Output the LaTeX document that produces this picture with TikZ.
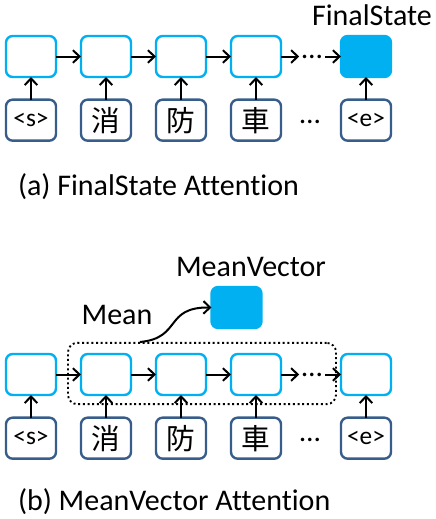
\documentclass[tikz,border=0pt]{standalone}
\usepackage{fontspec}
\setmainfont{Carlito}[Ligatures=NoCommon]
\newfontfamily\jpfont{Noto Sans CJK JP}
\usetikzlibrary{arrows.meta, positioning}
\definecolor{cellblue}{RGB}{0,176,240}
\definecolor{wordblue}{RGB}{56,93,138}

\begin{document}
\begin{tikzpicture}[x=0.75pt, y=-0.75pt, >={Straight Barb[length=5pt,width=9.5pt]}, line width=1.5pt,
  node distance=17pt and 18.75pt,
  cell/.style={draw=cellblue, rounded corners=5pt, minimum width=37.5pt, minimum height=30.75pt, inner sep=0pt, outer sep=0pt, line width=1.8pt},
  final/.style={cell, fill=cellblue},
  word/.style={draw=wordblue, rounded corners=5pt, minimum width=37.5pt, minimum height=30.75pt, inner sep=0pt, outer sep=0pt, line width=1.8pt, font=\fontsize{19}{22}\selectfont},
  kanji/.style={word, font=\jpfont\fontsize{21.5}{24}\selectfont},
  dots/.style={inner sep=0pt, outer sep=2pt, font=\fontsize{22}{24}\selectfont},
  label/.style={inner sep=0pt, font=\fontsize{22.5}{26}\selectfont}]

  \useasboundingbox (0,0) rectangle (436,519);

  % (a) final state
  \node[cell] (ha1) at (31,56.5) {};
  \node[cell] (ha2) [right=of ha1] {};
  \node[cell] (ha3) [right=of ha2] {};
  \node[cell] (ha4) [right=of ha3] {};
  \node[final] (ha5) [right=45pt of ha4] {};
  \node[dots] (da) at (312,56.5) {…};

  \node[word] (xa1) [below=of ha1] {<s>};
  \node[kanji] (xa2) [below=of ha2] {消};
  \node[kanji] (xa3) [below=of ha3] {防};
  \node[kanji] (xa4) [below=of ha4] {車};
  \node[word] (xa5) [below=of ha5] {<e>};
  \node[dots] at (310,121.5) {…};

  \node[label] (fs) at (372,15) {FinalState};
  \node[label, anchor=west] (capa) at (17,187) {(a) FinalState Attention};

  \foreach \i in {1,...,5} \draw[->] (xa\i) -- (ha\i);
  \foreach \i/\j in {1/2,2/3,3/4} \draw[->] (ha\i) -- (ha\j);
  \draw[->] (ha4) -- (da);
  \draw[->] (da) -- (ha5);

  % (b) mean vector
  \node[cell] (hb1) at (31,374.5) {};
  \node[cell] (hb2) [right=of hb1] {};
  \node[cell] (hb3) [right=of hb2] {};
  \node[cell] (hb4) [right=of hb3] {};
  \node[cell] (hb5) [right=45pt of hb4] {};
  \node[dots] (db) at (312,374.5) {…};

  \node[word] (xb1) [below=of hb1] {<s>};
  \node[kanji] (xb2) [below=of hb2] {消};
  \node[kanji] (xb3) [below=of hb3] {防};
  \node[kanji] (xb4) [below=of hb4] {車};
  \node[word] (xb5) [below=of hb5] {<e>};
  \node[dots] at (310,439.5) {…};

  \node[draw, dash pattern=on 1.5pt off 2pt, line width=1.4pt, rounded corners=7pt,
    minimum width=201pt, minimum height=46pt] (meanbox) at (202,373.5) {};
  \node[final] (mv) at (236.5,307.5) {};
  \node[label] (mvtext) at (251,267) {MeanVector};
  \node[label] (meantext) at (117,315) {Mean};

  \foreach \i in {1,...,5} \draw[->] (xb\i) -- (hb\i);
  \foreach \i/\j in {1/2,2/3,3/4} \draw[->] (hb\i) -- (hb\j);
  \draw[->] (hb4) -- (db);
  \draw[->] (db) -- (hb5);

  \coordinate (meanstart) at (140,342);
  \draw[->] (meanstart) .. controls (182,338) and (164,307) .. (mv.west);

  \node[label, anchor=west] (capb) at (17,502) {(b) MeanVector Attention};
\end{tikzpicture}
\end{document}
